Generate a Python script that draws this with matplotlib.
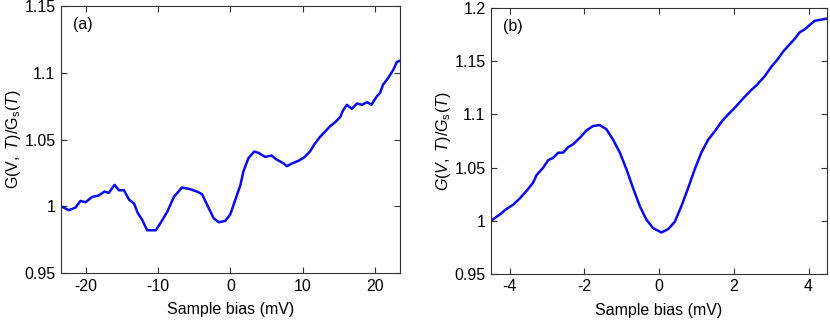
import numpy as np
import matplotlib
matplotlib.use('Agg')
import matplotlib.pyplot as plt

plt.rcParams['font.family'] = ['Liberation Sans', 'DejaVu Sans']
plt.rcParams['mathtext.fontset'] = 'custom'
plt.rcParams['mathtext.rm'] = 'Liberation Sans'
plt.rcParams['mathtext.it'] = 'Liberation Sans:italic'
plt.rcParams['axes.unicode_minus'] = False

# ============ DATA ============
bias_a = [-23.4, -22.3, -21.4, -20.7, -20.0, -19.1, -18.2, -17.4, -16.8, -16.0,
          -15.4, -14.7, -14.0, -13.3, -12.8, -12.2, -11.5, -10.3, -9.7, -8.7,
          -7.8, -6.7, -5.7, -4.6, -3.9, -3.2, -2.3, -1.6, -0.7, 0.0,
          0.7, 1.4, 1.8, 2.5, 3.3, 3.9, 4.8, 5.7, 6.4, 7.4,
          7.8, 8.5, 9.4, 10.3, 11.0, 11.7, 12.4, 13.1, 13.8, 14.5,
          15.2, 15.6, 16.1, 16.8, 17.5, 18.2, 18.9, 19.5, 20.2, 20.7,
          21.1, 21.8, 22.5, 23.0, 23.4]
cond_a = [1.000, 0.997, 0.999, 1.004, 1.003, 1.007, 1.008, 1.011, 1.010, 1.016,
          1.012, 1.012, 1.005, 1.002, 0.995, 0.990, 0.982, 0.982, 0.987, 0.996,
          1.007, 1.014, 1.013, 1.011, 1.009, 1.001, 0.991, 0.988, 0.989, 0.994,
          1.005, 1.016, 1.026, 1.036, 1.041, 1.040, 1.037, 1.038, 1.035, 1.032,
          1.030, 1.032, 1.034, 1.037, 1.041, 1.047, 1.052, 1.056, 1.060, 1.063,
          1.067, 1.072, 1.076, 1.073, 1.077, 1.076, 1.078, 1.076, 1.082, 1.085,
          1.091, 1.096, 1.102, 1.108, 1.109]

bias_b = [-4.50, -4.26, -4.09, -3.91, -3.73, -3.55, -3.37, -3.28, -3.10, -2.97,
          -2.84, -2.70, -2.57, -2.44, -2.30, -2.12, -1.94, -1.77, -1.59, -1.41,
          -1.23, -1.05, -0.87, -0.70, -0.52, -0.34, -0.16, 0.06, 0.24, 0.42,
          0.60, 0.78, 0.95, 1.13, 1.31, 1.49, 1.67, 1.85, 2.02, 2.25,
          2.47, 2.60, 2.83, 3.01, 3.18, 3.32, 3.50, 3.63, 3.76, 3.90,
          4.03, 4.17, 4.34, 4.48]
cond_b = [1.000, 1.006, 1.011, 1.015, 1.021, 1.028, 1.036, 1.043, 1.050, 1.057,
          1.059, 1.064, 1.064, 1.069, 1.072, 1.078, 1.085, 1.089, 1.090, 1.086,
          1.076, 1.064, 1.048, 1.031, 1.014, 1.001, 0.993, 0.989, 0.992, 0.999,
          1.014, 1.031, 1.048, 1.064, 1.076, 1.084, 1.093, 1.100, 1.106, 1.115,
          1.123, 1.127, 1.136, 1.145, 1.152, 1.159, 1.166, 1.171, 1.177, 1.180,
          1.184, 1.188, 1.189, 1.190]

xticks_a = [-20, -10, 0, 10, 20]
yticks_a = [0.95, 1.0, 1.05, 1.1, 1.15]
xticks_b = [-4, -2, 0, 2, 4]
yticks_b = [0.95, 1.0, 1.05, 1.1, 1.15, 1.2]

FS = 11.5


def fmt(v):
    s = f'{v:.2f}'.rstrip('0').rstrip('.')
    return s


def style(ax):
    for sp in ax.spines.values():
        sp.set_color('#333333')
        sp.set_linewidth(0.8)
    ax.tick_params(direction='in', top=True, right=True, length=4,
                   color='#333333', labelsize=FS, pad=4)


fig = plt.figure(figsize=(8.3, 3.2), dpi=100)

# ============ PANEL (a) ============
ax1 = fig.add_axes([0.0735, 0.147, 0.408, 0.834])
ax1.plot(bias_a, cond_a, color='#0a0af0', linewidth=1.8)
ax1.set_xlim(-23.4, 23.4)
ax1.set_ylim(0.95, 1.15)
ax1.set_xticks(xticks_a)
ax1.set_yticks(yticks_a)
ax1.set_yticklabels([fmt(v) for v in yticks_a])
ax1.set_xlabel('Sample bias (mV)', fontsize=FS, labelpad=6)
ax1.set_ylabel(r'$\mathrm{G(V,}\ T\mathrm{)/G_{s}(}T\mathrm{)}$', fontsize=FS, labelpad=1)
ax1.text(0.035, 0.93, '(a)', transform=ax1.transAxes, fontsize=FS, va='center')
style(ax1)

# ============ PANEL (b) ============
ax2 = fig.add_axes([0.5916, 0.144, 0.405, 0.831])
ax2.plot(bias_b, cond_b, color='#0a0af0', linewidth=1.8)
ax2.set_xlim(-4.5, 4.5)
ax2.set_ylim(0.95, 1.2)
ax2.set_xticks(xticks_b)
ax2.set_yticks(yticks_b)
ax2.set_yticklabels([fmt(v) for v in yticks_b])
ax2.set_xlabel('Sample bias (mV)', fontsize=FS, labelpad=6)
ax2.set_ylabel(r'$G(V,\ T)/G_{\mathrm{s}}(T)$', fontsize=FS, labelpad=1)
ax2.text(0.035, 0.93, '(b)', transform=ax2.transAxes, fontsize=FS, va='center')
style(ax2)

fig.savefig('out.png', dpi=100)
